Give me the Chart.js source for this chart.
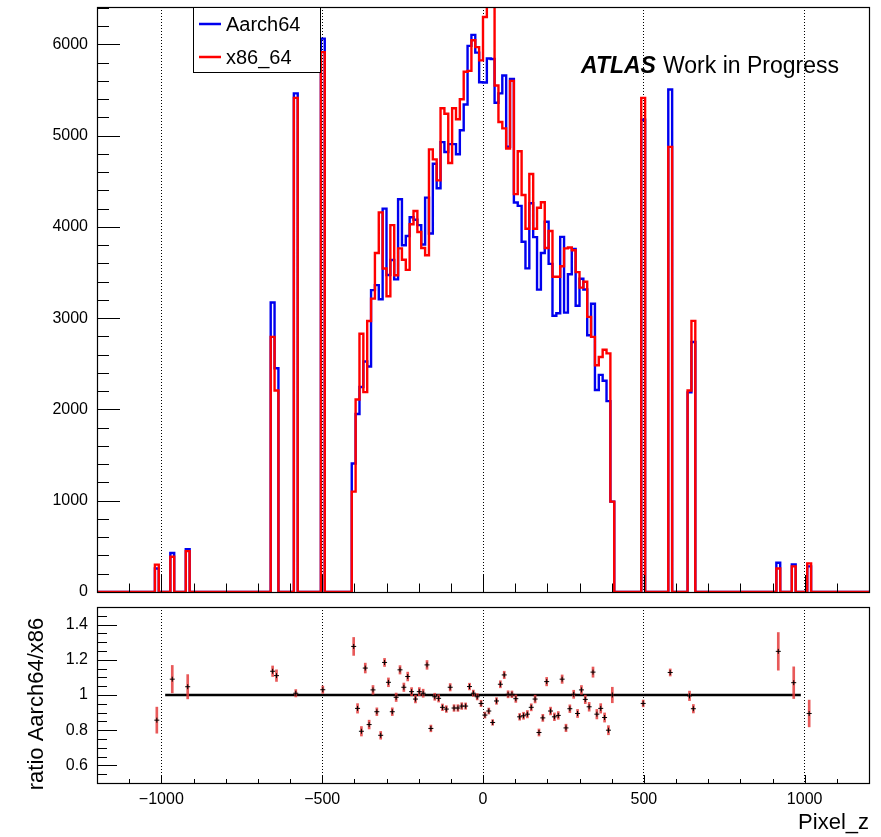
<!DOCTYPE html>
<html>
<head>
<meta charset="utf-8">
<script src="https://cdn.jsdelivr.net/npm/chart.js@4/dist/chart.umd.min.js"></script>
<style>
  body { margin: 0; background: #fff; }
  #wrap { position: relative; width: 881px; height: 837px; }
  canvas { position: absolute; left: 0; }
  #main { top: 0; }
  #ratio { top: 600px; }
</style>
</head>
<body>
<div id="wrap">
  <canvas id="main" width="881" height="600"></canvas>
  <canvas id="ratio" width="881" height="237"></canvas>
</div>
<script>
// bin centres (Pixel_z) of the filled bins, bins are 12 wide from -1200 to 1200
const binCenters = [
  -1014, -966, -918, -654, -642, -582, -498,
  -402, -390, -378, -366, -354, -342, -330, -318, -306, -294,
  -282, -270, -258, -246, -234, -222, -210, -198, -186, -174,
  -162, -150, -138, -126, -114, -102, -90, -78, -66, -54,
  -42, -30, -18, -6, 6, 18, 30, 42, 54, 66,
  78, 90, 102, 114, 126, 138, 150, 162, 174, 186,
  198, 210, 222, 234, 246, 258, 270, 282, 294, 306,
  318, 330, 342, 354, 366, 378, 390, 402,
  498, 582, 642, 654, 918, 966, 1014
];

// Aarch64 entries
const aarch64 = [
  257, 427, 469, 3172, 2451, 5464, 6063,
  1408, 1950, 2247, 2525, 2471, 3308, 3362, 3207, 4201, 3473,
  3638, 3425, 4303, 3800, 3901, 4107, 4079, 4020, 3808, 4321,
  3929, 4693, 4424, 4929, 4821, 4907, 4908, 4797, 5060, 5341,
  5984, 6105, 5910, 5586, 5582, 5845, 5840, 5361, 5464, 5659,
  4879, 5622, 4268, 4231, 3837, 3546, 4259, 3888, 3313, 3715,
  4057, 3595, 3027, 3054, 3891, 3061, 3481, 3760, 3137, 3432,
  3315, 2813, 3158, 2214, 2379, 2315, 2092, 990,
  5175, 5506, 2187, 2740, 320, 302, 281
];

// x86_64 entries
const x86 = [
  300, 386, 448, 2795, 2208, 5414, 5916,
  1100, 2110, 2830, 2190, 2970, 3215, 3715, 4160, 3545, 3240,
  4020, 3470, 3765, 3640, 3530, 4030, 4175, 3945, 3770, 3690,
  4850, 4740, 4510, 5300, 5240, 4700, 5300, 5180, 5400, 5700,
  5710, 6045, 5970, 5825, 6300, 6430, 6920, 5550, 5150, 5080,
  4860, 5600, 4360, 4830, 4350, 3980, 4580, 3980, 4210, 4270,
  3770, 3955, 3455, 3455, 3570, 3765, 3775, 3745, 3505, 3335,
  3400, 3015, 2795, 2485, 2575, 2655, 2615, 990,
  5414, 4877, 2208, 2971, 258, 281, 314
];

// ratio Aarch64/x86 and its error
const ratio = [
  0.857, 1.09, 1.047, 1.135, 1.11, 1.01, 1.03,
  1.276, 0.924, 0.794, 1.153, 0.832, 1.029, 0.905, 0.771, 1.185, 1.072,
  0.905, 0.987, 1.143, 1.044, 1.105, 1.019, 0.977, 1.019, 1.010, 1.171,
  0.810, 0.990, 0.981, 0.930, 0.920, 1.044, 0.926, 0.926, 0.937, 0.937,
  1.048, 1.010, 0.990, 0.952, 0.886, 0.909, 0.844, 0.966, 1.061, 1.114,
  1.004, 1.004, 0.979, 0.876, 0.882, 0.891, 0.930, 0.977, 0.787, 0.870,
  1.076, 0.909, 0.876, 0.884, 1.090, 0.813, 0.922, 1.004, 0.895, 1.029,
  0.975, 0.933, 1.130, 0.891, 0.924, 0.872, 0.800, 1.000,
  0.952, 1.128, 0.995, 0.922, 1.248, 1.07, 0.895
];
const ratioErr = [
  0.074, 0.078, 0.069, 0.030, 0.033, 0.021, 0.021,
  0.051, 0.027, 0.027, 0.028, 0.025, 0.025, 0.022, 0.022, 0.023, 0.025,
  0.022, 0.024, 0.024, 0.024, 0.025, 0.023, 0.022, 0.023, 0.023, 0.025,
  0.019, 0.020, 0.021, 0.019, 0.019, 0.021, 0.019, 0.019, 0.019, 0.018,
  0.019, 0.018, 0.018, 0.018, 0.017, 0.017, 0.016, 0.019, 0.020, 0.021,
  0.020, 0.019, 0.021, 0.019, 0.020, 0.021, 0.020, 0.022, 0.020, 0.020,
  0.024, 0.022, 0.022, 0.022, 0.024, 0.021, 0.022, 0.023, 0.023, 0.025,
  0.024, 0.025, 0.029, 0.027, 0.027, 0.026, 0.026, 0.044,
  0.019, 0.020, 0.027, 0.024, 0.107, 0.090, 0.076
];

// axis ticks
const xTickVals = [-1000, -500, 0, 500, 1000];
const yTicksMain = [0, 1000, 2000, 3000, 4000, 5000, 6000];
const yTicksRatio = [0.6, 0.8, 1, 1.2, 1.4];

const X_MIN = -1200, X_MAX = 1200, BIN_W = 12;
const FONT = '"Liberation Sans", Arial, Helvetica, sans-serif';
const BLUE = '#0000ee';
const RED = '#ff0000';

// histogram outline over the whole axis, empty bins at 0
function outline(values) {
  const byCenter = new Map(binCenters.map((c, i) => [c, values[i]]));
  const pts = [];
  for (let lo = X_MIN; lo < X_MAX; lo += BIN_W) {
    pts.push({ x: lo, y: byCenter.get(lo + BIN_W / 2) || 0 });
  }
  pts.push({ x: X_MAX, y: 0 });
  return pts;
}

const fmt = v => (v < 0 ? '\u2212' + Math.abs(v) : String(v));

// ROOT style ticks inside the frame + the frame itself
const rootTicks = {
  id: 'rootTicks',
  afterDraw(chart, args, o) {
    const { ctx, chartArea: a, scales: { x, y } } = chart;
    const isMajor = (v, m) => Math.abs(v / m - Math.round(v / m)) < 1e-6;
    ctx.save();
    ctx.strokeStyle = '#000';
    ctx.lineWidth = 1;
    ctx.beginPath();
    for (let k = 0; ; k++) {
      const v = x.min + k * o.xMinor;
      if (v > x.max + 1e-9) break;
      const px = Math.round(x.getPixelForValue(v)) + 0.5;
      const len = isMajor(v, o.xMajor) ? o.xMajLen : o.xMinLen;
      ctx.moveTo(px, a.bottom);
      ctx.lineTo(px, a.bottom - len);
    }
    for (let k = 0; ; k++) {
      const v = y.min + k * o.yMinor;
      if (v > y.max + 1e-9) break;
      const py = Math.round(y.getPixelForValue(v)) + 0.5;
      const len = isMajor(v, o.yMajor) ? o.yMajLen : o.yMinLen;
      ctx.moveTo(a.left, py);
      ctx.lineTo(a.left + len, py);
    }
    ctx.stroke();
    ctx.lineWidth = 1.2;
    ctx.strokeRect(Math.round(a.left) + 0.5, Math.round(a.top) + 0.5,
      Math.round(a.width), Math.round(a.height));
    ctx.restore();
  }
};

// legend box and ATLAS label on the upper pad
const mainText = {
  id: 'mainText',
  afterDraw(chart) {
    const ctx = chart.ctx;
    ctx.save();
    ctx.fillStyle = '#fff';
    ctx.fillRect(193, 7, 127, 65);
    ctx.strokeStyle = '#000';
    ctx.lineWidth = 1;
    ctx.strokeRect(193.5, 7.5, 127, 65);
    const entries = [chart.data.datasets[1], chart.data.datasets[0]];
    entries.forEach((ds, i) => {
      const yy = 24 + i * 33;
      ctx.strokeStyle = ds.borderColor;
      ctx.lineWidth = 2.5;
      ctx.beginPath();
      ctx.moveTo(199, yy);
      ctx.lineTo(221, yy);
      ctx.stroke();
      ctx.fillStyle = '#000';
      ctx.font = '20px ' + FONT;
      ctx.textAlign = 'left';
      ctx.textBaseline = 'alphabetic';
      ctx.fillText(ds.label, 226, yy + 7);
    });
    ctx.fillStyle = '#000';
    ctx.font = 'italic bold 23px ' + FONT;
    ctx.fillText('ATLAS', 581, 73);
    ctx.font = '23px ' + FONT;
    ctx.fillText('Work in Progress', 663, 73);
    ctx.restore();
  }
};

// axis titles on the lower pad
const ratioText = {
  id: 'ratioText',
  afterDraw(chart) {
    const ctx = chart.ctx;
    ctx.save();
    ctx.fillStyle = '#000';
    ctx.font = '22px ' + FONT;
    ctx.textAlign = 'right';
    ctx.textBaseline = 'alphabetic';
    ctx.fillText('Pixel_z', 869, 229);
    ctx.translate(43, 104);
    ctx.rotate(-Math.PI / 2);
    ctx.textAlign = 'center';
    ctx.fillText('ratio Aarch64/x86', 0, 0);
    ctx.restore();
  }
};

// Upper pad: the two histograms
new Chart(document.getElementById('main'), {
  type: 'line',
  data: {
    datasets: [
      {
        label: 'x86_64',
        data: outline(x86),
        borderColor: RED,
        borderWidth: 2.4,
        stepped: 'before',
        pointRadius: 0,
        fill: false,
        order: 0
      },
      {
        label: 'Aarch64',
        data: outline(aarch64),
        borderColor: BLUE,
        borderWidth: 2.4,
        stepped: 'before',
        pointRadius: 0,
        fill: false,
        order: 1
      }
    ]
  },
  options: {
    responsive: false,
    animation: false,
    layout: { padding: { top: 7, right: 12, bottom: 8, left: 0 } },
    plugins: {
      legend: { display: false },
      tooltip: { enabled: false },
      rootTicks: { xMinor: 100, xMajor: 500, xMajLen: 17, xMinLen: 8.5,
                   yMinor: 200, yMajor: 1000, yMajLen: 23, yMinLen: 12 }
    },
    scales: {
      x: {
        type: 'linear',
        min: X_MIN,
        max: X_MAX,
        offset: false,
        afterBuildTicks: s => { s.ticks = xTickVals.map(v => ({ value: v })); },
        ticks: { display: false },
        grid: { color: '#000', lineWidth: 1, drawTicks: false, offset: false },
        border: { display: false, dash: [1, 2] },
        afterFit: s => { s.height = 0; s.paddingLeft = 0; s.paddingRight = 0; }
      },
      y: {
        min: 0,
        max: 6410,
        afterBuildTicks: s => { s.ticks = yTicksMain.map(v => ({ value: v })); },
        ticks: { callback: v => String(v), color: '#000', font: { family: FONT, size: 16 }, padding: 1 },
        grid: { display: false },
        border: { display: false },
        afterFit: s => { s.width = 97; s.paddingTop = 0; s.paddingBottom = 0; }
      }
    }
  },
  plugins: [rootTicks, mainText]
});

// Lower pad: ratio
new Chart(document.getElementById('ratio'), {
  type: 'scatter',
  data: {
    datasets: [
      {
        type: 'scatter',
        data: binCenters.map((c, i) => ({ x: c, y: ratio[i] })),
        pointStyle: 'cross',
        pointRadius: 2.5,
        borderColor: '#000',
        borderWidth: 1,
        order: 0
      },
      {
        type: 'bar',
        data: binCenters.map((c, i) => ({ x: c, y: [ratio[i] - ratioErr[i], ratio[i] + ratioErr[i]] })),
        backgroundColor: 'rgba(228,60,60,0.85)',
        borderWidth: 0,
        barThickness: 2,
        grouped: false,
        order: 1
      },
      {
        type: 'line',
        data: [{ x: -988, y: 1 }, { x: 988, y: 1 }],
        borderColor: '#000',
        borderWidth: 2.5,
        pointRadius: 0,
        order: 2
      }
    ]
  },
  options: {
    responsive: false,
    animation: false,
    layout: { padding: { top: 7, right: 12, bottom: 0, left: 0 } },
    plugins: {
      legend: { display: false },
      tooltip: { enabled: false },
      rootTicks: { xMinor: 100, xMajor: 500, xMajLen: 8, xMinLen: 4,
                   yMinor: 0.05, yMajor: 0.2, yMajLen: 20, yMinLen: 10 }
    },
    scales: {
      x: {
        type: 'linear',
        min: X_MIN,
        max: X_MAX,
        offset: false,
        afterBuildTicks: s => { s.ticks = xTickVals.map(v => ({ value: v })); },
        ticks: { callback: v => fmt(v), color: '#000', font: { family: FONT, size: 16 },
                 padding: 7, maxRotation: 0, autoSkip: false },
        grid: { color: '#000', lineWidth: 1, drawTicks: false, offset: false },
        border: { display: false, dash: [1, 2] },
        afterFit: s => { s.height = 54; s.paddingLeft = 0; s.paddingRight = 0; }
      },
      y: {
        min: 0.5,
        max: 1.5,
        afterBuildTicks: s => { s.ticks = yTicksRatio.map(v => ({ value: v })); },
        ticks: { callback: v => String(v), color: '#000', font: { family: FONT, size: 16 }, padding: 1 },
        grid: { display: false },
        border: { display: false },
        afterFit: s => { s.width = 97; s.paddingTop = 0; s.paddingBottom = 0; }
      }
    }
  },
  plugins: [rootTicks, ratioText]
});
</script>
</body>
</html>
